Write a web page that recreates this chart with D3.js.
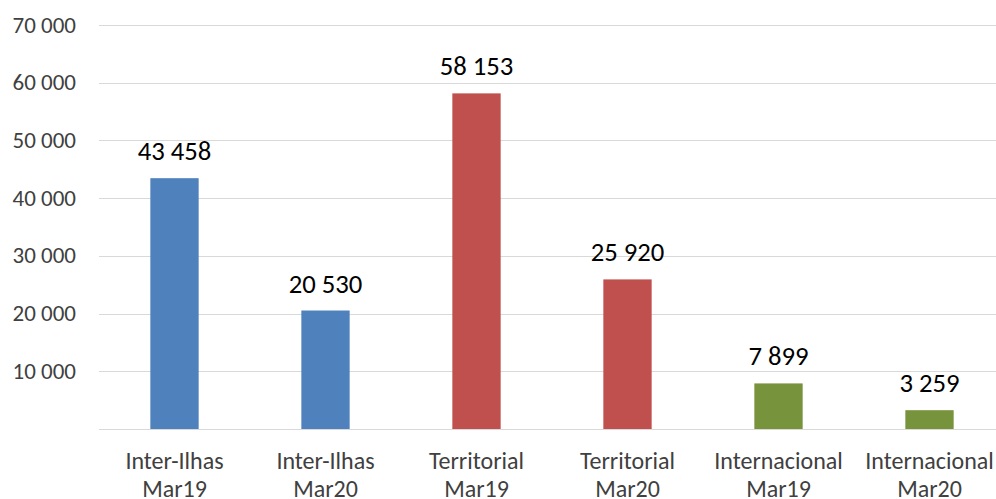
<!DOCTYPE html>
<html>
<head>
<meta charset="UTF-8">
<title>Passageiros Mar19 / Mar20</title>
<script src="https://d3js.org/d3.v7.min.js"></script>
<style>
body { margin: 0; background: #fff; }
svg text { font-family: Carlito, "Liberation Sans", Arial, sans-serif; }
</style>
</head>
<body>
<svg id="chart"></svg>
<script>

/* Data */
var categories = ['Inter-Ilhas|Mar19', 'Inter-Ilhas|Mar20', 'Territorial|Mar19', 'Territorial|Mar20', 'Internacional|Mar19', 'Internacional|Mar20']
var values = [43458, 20530, 58153, 25920, 7899, 3259]
var groups = ['inter', 'inter', 'terr', 'terr', 'intl', 'intl']
var yTicks = [10000, 20000, 30000, 40000, 50000, 60000, 70000]

/* Layout */
var W = 996, H = 499
var mLeft = 99, mRight = 1005, mTop = 25, mBottom = 429
var colors = { inter: '#4f81bd', terr: '#c0504d', intl: '#77933c' }

var fmt = function(v) { return d3.format(',')(v).replace(/,/g, ' ') }

var svg = d3.select('#chart').attr('width', W).attr('height', H)

var x = d3.scaleBand()
	.domain(categories)
	.range([mLeft, mRight])
	.paddingInner(0.68)
	.paddingOuter(0.34)

var y = d3.scaleLinear()
	.domain([0, 70000])
	.range([mBottom, mTop])

/* gridlines incl. the baseline */
svg.append('g').selectAll('line')
	.data([0].concat(yTicks))
	.enter().append('line')
	.attr('x1', mLeft).attr('x2', W)
	.attr('y1', function(d) { return Math.round(y(d)) + 0.5 })
	.attr('y2', function(d) { return Math.round(y(d)) + 0.5 })
	.style('stroke', '#d9d9d9')
	.style('stroke-width', 1.2)

/* y tick labels (no 0 label in the original) */
svg.append('g').selectAll('text')
	.data(yTicks)
	.enter().append('text')
	.attr('x', 76)
	.attr('y', function(d) { return y(d) })
	.attr('dy', '0.33em')
	.attr('text-anchor', 'end')
	.style('font-size', '23px')
	.style('fill', '#404040')
	.text(fmt)

/* bars */
svg.append('g').selectAll('rect')
	.data(values)
	.enter().append('rect')
	.attr('x', function(d, i) { return x(categories[i]) })
	.attr('y', function(d) { return y(d) })
	.attr('width', x.bandwidth())
	.attr('height', function(d) { return y(0) - y(d) })
	.style('fill', function(d, i) { return colors[groups[i]] })

/* value labels */
svg.append('g').selectAll('text')
	.data(values)
	.enter().append('text')
	.attr('x', function(d, i) { return x(categories[i]) + x.bandwidth() / 2 })
	.attr('y', function(d) { return y(d) - 18 })
	.attr('text-anchor', 'middle')
	.style('font-size', '26.7px')
	.style('fill', '#000')
	.text(fmt)

/* category labels, two lines each */
var cat = svg.append('g').selectAll('text')
	.data(categories)
	.enter().append('text')
	.attr('text-anchor', 'middle')
	.style('font-size', '24px')
	.style('fill', '#404040')

cat.each(function(d) {
	var parts = d.split('|')
	var t = d3.select(this)
	var cx = x(d) + x.bandwidth() / 2
	t.append('tspan').attr('x', cx).attr('y', 469).text(parts[0])
	t.append('tspan').attr('x', cx).attr('y', 497).text(parts[1])
})

</script>
</body>
</html>
